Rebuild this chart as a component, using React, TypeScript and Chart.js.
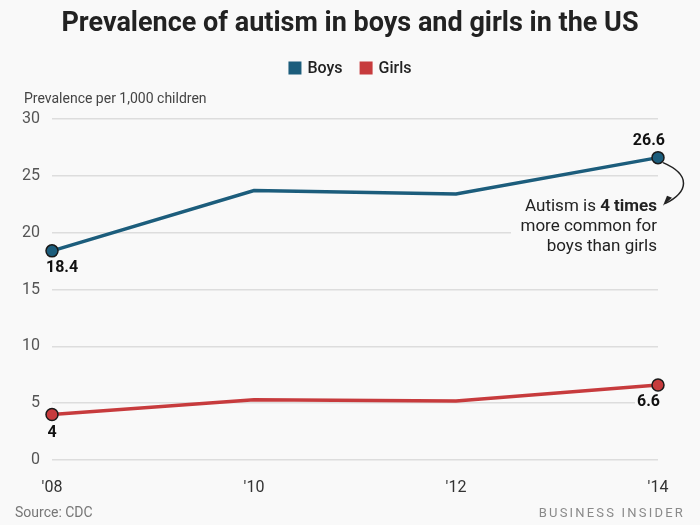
import { useEffect, useRef } from "react";
import { Chart, registerables } from "chart.js";

Chart.register(...registerables);

const categories = ["'08", "'10", "'12", "'14"];
const boysValues = [18.4, 23.7, 23.4, 26.6];
const girlsValues = [4, 5.3, 5.2, 6.6];
const seriesNames = ["Boys", "Girls"];
const seriesColors = ["#1c5d7c", "#c73b3d"];
const yMin = 0;
const yMax = 30;
const yStep = 5;

const titleText = "Prevalence of autism in boys and girls in the US";
const yAxisTitle = "Prevalence per 1,000 children";
const sourceText = "Source: CDC";
const brandText = "BUSINESS INSIDER";
const BG = "#f9f9f9";
const FONT = "Roboto, 'Liberation Sans', sans-serif";

const decorPlugin = {
  id: "decor",
  beforeDraw(chart: any) {
    const { ctx, width, height } = chart;
    ctx.save();
    ctx.fillStyle = BG;
    ctx.fillRect(0, 0, width, height);
    ctx.restore();
  },
  afterDatasetsDraw(chart: any) {
    const { ctx } = chart;
    const metaB = chart.getDatasetMeta(0);
    const metaG = chart.getDatasetMeta(1);
    const last = categories.length - 1;

    const label = (txt: string, x: number, y: number, align: CanvasTextAlign) => {
      ctx.save();
      ctx.font = `bold 16px ${FONT}`;
      ctx.textAlign = align;
      ctx.textBaseline = "middle";
      const w = ctx.measureText(txt).width;
      let lx = x;
      if (align === "center") lx = x - w / 2;
      if (align === "right") lx = x - w;
      ctx.fillStyle = BG;
      ctx.fillRect(lx - 2, y - 8, w + 4, 16);
      ctx.fillStyle = "#111";
      ctx.fillText(txt, x, y);
      ctx.restore();
    };

    const b0 = metaB.data[0];
    const bL = metaB.data[last];
    const g0 = metaG.data[0];
    const gL = metaG.data[last];
    label(String(boysValues[0]), b0.x - 6, b0.y + 17, "left");
    label(String(boysValues[last]), bL.x + 7, bL.y - 17, "right");
    label(String(girlsValues[0]), g0.x, g0.y + 18, "center");
    label(String(girlsValues[last]), gL.x + 2, gL.y + 17, "right");

    // annotation
    const ax = bL.x - 1;
    const ay = bL.y;
    ctx.save();
    ctx.textBaseline = "middle";
    ctx.textAlign = "right";
    const lines = ["more common for", "boys than girls"];
    ctx.fillStyle = BG;
    ctx.fillRect(ax - 146, ay + 38, 150, 62);
    ctx.font = `bold 17px ${FONT}`;
    const boldPart = "4 times";
    const bw = ctx.measureText(boldPart).width;
    ctx.fillStyle = "#222";
    ctx.fillText(boldPart, ax, ay + 49);
    ctx.font = `17px ${FONT}`;
    ctx.fillText("Autism is ", ax - bw, ay + 49);
    ctx.fillText(lines[0], ax, ay + 69);
    ctx.fillText(lines[1], ax, ay + 89);
    ctx.restore();

    // arrow
    ctx.save();
    ctx.strokeStyle = "#222";
    ctx.lineWidth = 1.5;
    ctx.beginPath();
    const sx = bL.x + 5, sy = bL.y + 5;
    const ex = bL.x + 7, ey = bL.y + 46;
    ctx.moveTo(sx, sy);
    ctx.bezierCurveTo(sx + 28, sy + 12, sx + 26, ey - 12, ex, ey);
    ctx.stroke();
    ctx.fillStyle = "#222";
    ctx.beginPath();
    ctx.moveTo(ex - 2, ey + 2);
    ctx.lineTo(ex + 7, ey - 6);
    ctx.lineTo(ex + 2, ey - 8);
    ctx.closePath();
    ctx.fill();
    ctx.restore();
  },
  afterDraw(chart: any) {
    const { ctx, width } = chart;
    ctx.save();
    ctx.fillStyle = "#222";
    ctx.textAlign = "center";
    ctx.textBaseline = "middle";
    let size = 27;
    ctx.font = `bold ${size}px ${FONT}`;
    while (ctx.measureText(titleText).width > 578 && size > 16) {
      size -= 0.5;
      ctx.font = `bold ${size}px ${FONT}`;
    }
    ctx.fillText(titleText, width / 2, 24);

    ctx.font = `500 16px ${FONT}`;
    const box = 13;
    const gapBoxText = 6;
    const gapItems = 17;
    const widths = seriesNames.map((n) => ctx.measureText(n).width);
    const total = widths.reduce((a, w) => a + box + gapBoxText + w, 0) + gapItems * (seriesNames.length - 1);
    let x = width / 2 - total / 2;
    const ly = 68;
    ctx.textAlign = "left";
    seriesNames.forEach((n, i) => {
      ctx.fillStyle = seriesColors[i];
      ctx.fillRect(x, ly - box / 2, box, box);
      x += box + gapBoxText;
      ctx.fillStyle = "#222";
      ctx.fillText(n, x, ly + 1);
      x += widths[i] + gapItems;
    });

    ctx.font = `14px ${FONT}`;
    ctx.fillStyle = "#444";
    ctx.fillText(yAxisTitle, 24, 99);

    ctx.font = `14px ${FONT}`;
    ctx.fillStyle = "#777";
    ctx.fillText(sourceText, 15, 513);
    ctx.textAlign = "right";
    ctx.font = `13px ${FONT}`;
    ctx.fillStyle = "#8a8a8a";
    (ctx as any).letterSpacing = "2.2px";
    ctx.fillText(brandText, 685, 514);
    ctx.restore();
  },
};

export default function App() {
  const ref = useRef<HTMLCanvasElement | null>(null);
  useEffect(() => {
    if (!ref.current) return;
    const chart = new Chart(ref.current, {
      type: "line",
      data: {
        labels: categories,
        datasets: [
          {
            label: seriesNames[0],
            data: boysValues,
            borderColor: seriesColors[0],
            backgroundColor: seriesColors[0],
            borderWidth: 3.5,
            pointRadius: [6, 0, 0, 6],
            pointBorderColor: "#1a1a1a",
            pointBorderWidth: 1.5,
            pointBackgroundColor: seriesColors[0],
            tension: 0,
          },
          {
            label: seriesNames[1],
            data: girlsValues,
            borderColor: seriesColors[1],
            backgroundColor: seriesColors[1],
            borderWidth: 3.5,
            pointRadius: [6, 0, 0, 6],
            pointBorderColor: "#1a1a1a",
            pointBorderWidth: 1.5,
            pointBackgroundColor: seriesColors[1],
            tension: 0,
          },
        ],
      },
      options: {
        responsive: false,
        animation: false,
        events: [],
        layout: { padding: { top: 119, right: 42, left: 0, bottom: 0 } },
        plugins: {
          legend: { display: false },
          title: { display: false },
          tooltip: { enabled: false },
        },
        scales: {
          x: {
            offset: false,
            grid: { display: false, drawTicks: false },
            border: { display: false },
            ticks: {
              color: "#333",
              font: { family: FONT, size: 16 },
              padding: 18,
              maxRotation: 0,
            },
            afterFit(scale: any) {
              scale.height = 65;
            },
          },
          y: {
            min: yMin,
            max: yMax,
            grid: { color: "#dddddd", lineWidth: 1.5, drawTicks: false },
            border: { display: false },
            ticks: {
              stepSize: yStep,
              color: "#555",
              font: { family: FONT, size: 16 },
              padding: 12,
            },
            afterFit(scale: any) {
              scale.width = 52;
            },
          },
        },
      },
      plugins: [decorPlugin],
    });
    return () => chart.destroy();
  }, []);
  return (
    <div style={{ position: "absolute", left: 0, top: 0, width: 700, height: 525 }}>
      <canvas ref={ref} width={700} height={525} />
    </div>
  );
}
